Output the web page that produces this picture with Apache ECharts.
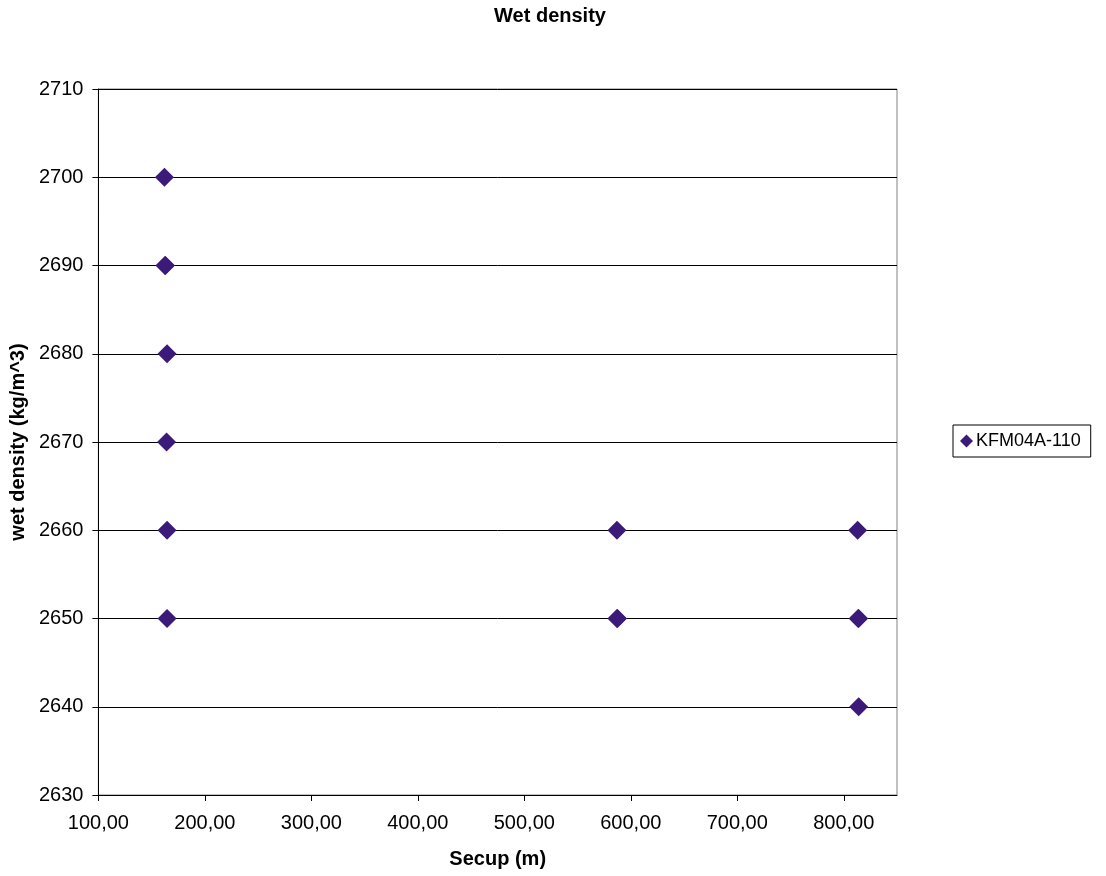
<!DOCTYPE html>
<html><head><meta charset="utf-8">
<script src="https://cdn.jsdelivr.net/npm/echarts@6/dist/echarts.min.js"></script>
<style>html,body{margin:0;padding:0;background:#fff}#c{width:1106px;height:876px}</style>
</head><body><div id="c"></div>
<script>
const seriesName = 'KFM04A-110';
const secup = [162, 162.5, 163, 164.5, 164, 164.5, 164.5, 587, 587.5, 587, 813, 813.5, 814, 814];
const wetDensity = [2700, 2690, 2690, 2680, 2670, 2660, 2650, 2660, 2650, 2650, 2660, 2650, 2650, 2640];
const xMin = 100, xMax = 850, xStep = 100;
const yMin = 2630, yMax = 2710, yStep = 10;

const chart = echarts.init(document.getElementById('c'));
const font = 'Liberation Sans, Arial, sans-serif';
chart.setOption({
  animation: false,
  backgroundColor: '#fff',
  title: { text: 'Wet density', left: 545, top: 1, textAlign: 'center',
    textStyle: { fontFamily: font, fontSize: 20, fontWeight: 'bold', color: '#000' } },
  legend: {
    left: 953, top: 425, orient: 'vertical', padding: [7, 10, 7, 7],
    borderColor: '#000', borderWidth: 1, borderRadius: 0, itemWidth: 13, itemHeight: 13, itemGap: 4,
    textStyle: { fontFamily: font, fontSize: 18, color: '#000', padding: [0, 0, 0, -2] },
    data: [{ name: seriesName, icon: 'diamond' }]
  },
  grid: { left: 96, top: 89, right: 209, bottom: 81, show: true, borderColor: '#808080', borderWidth: 1 },
  xAxis: {
    type: 'value', min: xMin, max: xMax, interval: xStep,
    name: 'Secup (m)', nameLocation: 'middle', nameGap: 54,
    nameTextStyle: { fontFamily: font, fontSize: 20, fontWeight: 'bold', color: '#000' },
    axisLine: { show: true, lineStyle: { color: '#000', width: 1 } },
    axisTick: { show: true, length: 6, lineStyle: { color: '#000' } },
    axisLabel: { fontFamily: font, fontSize: 20, color: '#000', margin: 18,
      showMaxLabel: false,
      formatter: v => v.toFixed(2).replace('.', ',') },
    splitLine: { show: false }
  },
  yAxis: {
    type: 'value', min: yMin, max: yMax, interval: yStep,
    name: 'wet density (kg/m^3)', nameLocation: 'middle', nameGap: 67, nameRotate: 90,
    nameTextStyle: { fontFamily: font, fontSize: 20, fontWeight: 'bold', color: '#000' },
    axisLine: { show: true, lineStyle: { color: '#000', width: 1 } },
    axisTick: { show: true, length: 6, lineStyle: { color: '#000' } },
    axisLabel: { fontFamily: font, fontSize: 20, color: '#000', margin: 15,
      formatter: v => String(v) },
    splitLine: { show: true, lineStyle: { color: '#000', width: 1 } }
  },
  series: [{
    name: seriesName, type: 'scatter', symbol: 'diamond', symbolSize: 19,
    itemStyle: { color: '#3b1a7a', opacity: 1 },
    data: secup.map((x, i) => [x, wetDensity[i]])
  }]
});
</script></body></html>
